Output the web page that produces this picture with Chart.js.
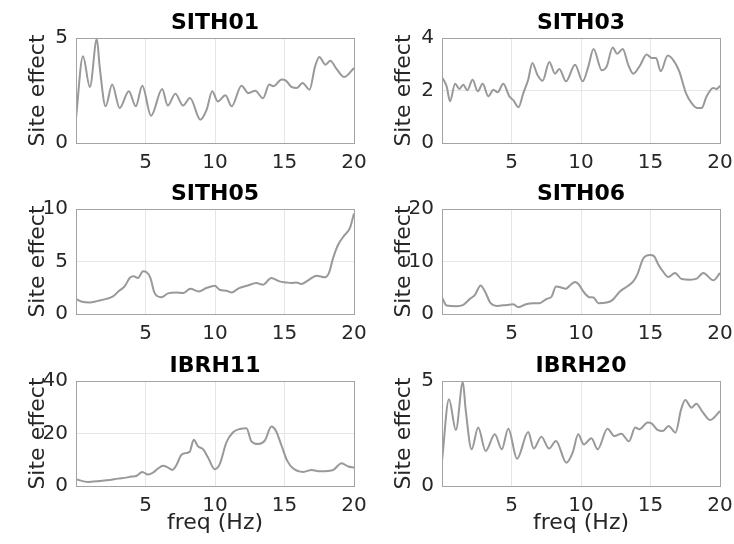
<!DOCTYPE html>
<html>
<head>
<meta charset="utf-8">
<script src="https://cdn.jsdelivr.net/npm/chart.js@4"></script>
<style>
  body { margin: 0; background: #fff; }
  #wrap { position: relative; width: 734px; height: 544px; overflow: hidden; }
  .panel { position: absolute; }
</style>
</head>
<body>
<div id="wrap"></div>
<script>
// 各測站的場址效應曲線（數值從圖上估讀）

const sith01Freq = [0, 0.5, 1.0, 1.5, 1.7, 2.13, 2.6, 3.14, 3.8, 4.3, 4.77, 5.4, 6.2, 6.6, 7.15, 7.7, 8.2, 8.95, 9.4, 9.8, 10.2, 10.75, 11.2, 11.9, 12.4, 12.9, 13.45, 13.9, 14.2, 14.8, 15.1, 15.5, 15.9, 16.3, 16.8, 17.2, 17.5, 17.95, 18.3, 18.7, 19.3, 20];
const sith01Val = [1.19, 4.13, 2.67, 4.95, 3.65, 1.75, 2.78, 1.67, 2.46, 1.75, 2.73, 1.30, 2.57, 1.78, 2.35, 1.78, 2.14, 1.11, 1.59, 2.46, 1.98, 2.27, 1.75, 2.73, 2.38, 2.49, 2.13, 2.78, 2.70, 3.02, 2.97, 2.67, 2.62, 2.86, 2.54, 3.65, 4.10, 3.73, 3.92, 3.57, 3.14, 3.57];

const sith03Freq = [0, 0.33, 0.58, 0.94, 1.25, 1.53, 1.82, 2.2, 2.57, 2.93, 3.33, 3.7, 4.0, 4.41, 4.84, 5.13, 5.5, 5.85, 6.2, 6.5, 6.86, 7.24, 7.72, 8.13, 8.44, 8.92, 9.57, 10.12, 10.53, 10.9, 11.5, 11.85, 12.28, 12.6, 13.0, 13.4, 13.76, 14.24, 14.72, 15.08, 15.4, 15.73, 16.24, 16.7, 17.07, 17.55, 17.96, 18.37, 18.68, 19.04, 19.5, 19.76, 20];
const sith03Val = [2.51, 2.16, 1.59, 2.26, 2.06, 2.22, 2.01, 2.41, 1.97, 2.26, 1.78, 2.03, 1.93, 2.26, 1.78, 1.63, 1.36, 1.90, 2.41, 3.05, 2.60, 2.37, 3.09, 2.64, 2.82, 2.35, 2.98, 2.35, 2.92, 3.58, 2.77, 2.92, 3.64, 3.40, 3.58, 2.98, 2.64, 2.95, 3.37, 3.24, 3.24, 2.73, 3.33, 3.11, 2.73, 1.90, 1.52, 1.33, 1.33, 1.78, 2.10, 2.06, 2.18];

const sith05Freq = [0, 0.38, 0.98, 1.58, 2.18, 2.66, 3.1, 3.5, 3.86, 4.15, 4.46, 4.82, 5.06, 5.35, 5.66, 6.14, 6.62, 7.22, 7.7, 8.23, 8.83, 9.38, 9.98, 10.34, 10.82, 11.22, 11.73, 12.37, 12.97, 13.45, 14.05, 14.65, 15.13, 15.5, 15.85, 16.2, 16.7, 17.3, 17.9, 18.2, 18.5, 18.85, 19.33, 19.7, 20];
const sith05Val = [1.44, 1.19, 1.09, 1.25, 1.44, 1.67, 2.21, 2.63, 3.43, 3.59, 3.43, 4.07, 4.00, 3.43, 1.99, 1.60, 1.96, 2.05, 1.99, 2.40, 2.15, 2.47, 2.69, 2.31, 2.21, 2.05, 2.47, 2.72, 2.95, 2.79, 3.43, 3.11, 3.01, 2.95, 3.01, 2.85, 3.21, 3.65, 3.49, 3.91, 5.35, 6.57, 7.53, 8.17, 9.58];

const sith06Freq = [0, 0.34, 1.06, 1.53, 2.01, 2.37, 2.78, 3.09, 3.5, 3.93, 4.65, 5.13, 5.49, 6.04, 6.57, 7.0, 7.53, 7.89, 8.2, 8.56, 8.9, 9.26, 9.57, 9.81, 10.22, 10.6, 10.9, 11.25, 11.85, 12.28, 12.8, 13.4, 13.76, 14.05, 14.48, 14.96, 15.25, 15.56, 15.92, 16.28, 16.76, 17.24, 17.84, 18.32, 18.8, 19.52, 20];
const sith06Val = [3.14, 1.60, 1.47, 1.73, 2.88, 3.65, 5.45, 4.29, 2.05, 1.54, 1.73, 1.86, 1.28, 1.86, 2.05, 2.05, 2.88, 3.33, 5.26, 5.06, 4.81, 5.58, 6.09, 5.71, 4.10, 3.20, 3.14, 2.05, 2.18, 2.69, 4.29, 5.38, 6.22, 7.50, 10.58, 11.22, 11.03, 9.42, 8.01, 7.05, 7.82, 6.67, 6.54, 6.73, 7.82, 6.41, 7.82];

const ibrh11Freq = [0, 0.86, 1.7, 2.42, 3.02, 3.62, 3.98, 4.34, 4.77, 5.18, 5.54, 5.9, 6.26, 6.62, 6.93, 7.22, 7.58, 7.89, 8.18, 8.47, 8.78, 9.14, 9.5, 9.98, 10.34, 10.82, 11.3, 11.78, 12.26, 12.62, 13.1, 13.58, 14.06, 14.38, 14.79, 15.2, 15.63, 16.35, 16.95, 17.43, 18.15, 18.51, 19.11, 19.59, 20];
const ibrh11Val = [2.56, 1.53, 1.92, 2.30, 2.81, 3.19, 3.58, 3.83, 5.37, 4.35, 5.11, 6.65, 7.67, 7.03, 6.13, 7.92, 11.88, 12.52, 13.04, 17.64, 15.08, 14.06, 10.86, 6.39, 8.31, 16.61, 20.45, 21.73, 21.98, 17.00, 15.97, 17.25, 22.62, 21.09, 15.33, 9.58, 6.65, 5.37, 6.13, 5.62, 5.75, 6.13, 8.69, 7.41, 7.03];

const ibrh20Freq = [0, 0.5, 1.0, 1.5, 1.7, 2.13, 2.6, 3.14, 3.8, 4.3, 4.77, 5.4, 6.2, 6.6, 7.15, 7.7, 8.2, 8.95, 9.4, 9.8, 10.2, 10.75, 11.2, 11.9, 12.4, 12.9, 13.45, 13.9, 14.2, 14.8, 15.1, 15.5, 15.9, 16.3, 16.8, 17.2, 17.5, 17.95, 18.3, 18.7, 19.3, 20];
const ibrh20Val = [1.19, 4.13, 2.67, 4.95, 3.65, 1.75, 2.78, 1.67, 2.46, 1.75, 2.73, 1.30, 2.57, 1.78, 2.35, 1.78, 2.14, 1.11, 1.59, 2.46, 1.98, 2.27, 1.75, 2.73, 2.38, 2.49, 2.13, 2.78, 2.70, 3.02, 2.97, 2.67, 2.62, 2.86, 2.54, 3.65, 4.10, 3.73, 3.92, 3.57, 3.14, 3.57];

const xTicks = [5, 10, 15, 20];
const sith01Ticks = [0, 5];
const sith03Ticks = [0, 2, 4];
const sith05Ticks = [0, 5, 10];
const sith06Ticks = [0, 10, 20];
const ibrh11Ticks = [0, 20, 40];
const ibrh20Ticks = [0, 5];

const stations = ['SITH01', 'SITH03', 'SITH05', 'SITH06', 'IBRH11', 'IBRH20'];

const FONT = 'DejaVu Sans';

/**
 * 畫出完整的座標框（上下左右四邊）
 */
const boxPlugin = {
    id: 'box',
    afterDatasetsDraw(chart) {
        const a = chart.chartArea;
        const ctx = chart.ctx;
        ctx.save();
        ctx.strokeStyle = '#a3a3a3';
        ctx.lineWidth = 1;
        ctx.strokeRect(Math.round(a.left) + 0.5, Math.round(a.top) + 0.5,
            Math.round(a.right - a.left), Math.round(a.bottom - a.top));
        ctx.restore();
    },
};

/**
 * 建立一個子圖
 */
function makePanel(name, freq, vals, yTicks, col, row) {
    const bottomRow = row === 2;
    const plotLeft = col === 0 ? 76 : 442;
    const plotTop = [38, 209, 381][row];
    const canvasLeft = plotLeft - 76;
    const canvasTop = plotTop - 38;
    const width = 367;
    const height = bottomRow ? 203 : 173;

    const div = document.createElement('div');
    div.className = 'panel';
    div.style.left = canvasLeft + 'px';
    div.style.top = canvasTop + 'px';
    const canvas = document.createElement('canvas');
    canvas.width = width;
    canvas.height = height;
    canvas.style.width = width + 'px';
    canvas.style.height = height + 'px';
    div.appendChild(canvas);
    document.getElementById('wrap').appendChild(div);

    const points = freq.map((f, i) => ({ x: f, y: vals[i] }));

    return new Chart(canvas, {
        type: 'line',
        data: {
            datasets: [
                {
                    label: name,
                    data: points,
                    borderColor: '#999999',
                    borderWidth: 2,
                    pointRadius: 0,
                    cubicInterpolationMode: 'monotone',
                    fill: false,
                },
            ],
        },
        options: {
            responsive: false,
            animation: false,
            devicePixelRatio: 1,
            layout: { padding: { left: 0, right: 13, top: 0, bottom: 0 } },
            plugins: {
                legend: { display: false },
                tooltip: { enabled: false },
                title: {
                    display: true,
                    text: name,
                    fullSize: false,
                    color: '#000',
                    font: { family: FONT, size: 22, weight: 'bold', lineHeight: 1 },
                    padding: { top: 12, bottom: 4 },
                },
            },
            scales: {
                x: {
                    type: 'linear',
                    min: 0,
                    max: 20,
                    afterBuildTicks: (s) => { s.ticks = xTicks.map((v) => ({ value: v })); },
                    afterFit: (s) => {
                        s.height = bottomRow ? 60 : 30;
                        s.paddingLeft = 0;
                        s.paddingRight = 0;
                    },
                    grid: { color: '#e6e6e6', drawTicks: false },
                    border: { display: false },
                    ticks: {
                        color: '#262626',
                        font: { family: FONT, size: 20 },
                        padding: 8,
                        maxRotation: 0,
                    },
                    title: {
                        display: bottomRow,
                        text: 'freq (Hz)',
                        color: '#262626',
                        font: { family: FONT, size: 22, lineHeight: 1 },
                        padding: { top: 0, bottom: 12 },
                    },
                },
                y: {
                    min: yTicks[0],
                    max: yTicks[yTicks.length - 1],
                    afterBuildTicks: (s) => { s.ticks = yTicks.map((v) => ({ value: v })); },
                    afterFit: (s) => {
                        s.width = 76;
                        s.paddingTop = 0;
                        s.paddingBottom = 0;
                    },
                    grid: { color: '#e6e6e6', drawTicks: false },
                    border: { display: false },
                    ticks: {
                        color: '#262626',
                        font: { family: FONT, size: 20 },
                        padding: 8,
                    },
                    title: {
                        display: true,
                        text: 'Site effect',
                        color: '#262626',
                        font: { family: FONT, size: 22, lineHeight: 1 },
                        padding: { top: 27, bottom: 0 },
                    },
                },
            },
        },
        plugins: [boxPlugin],
    });
}

makePanel(stations[0], sith01Freq, sith01Val, sith01Ticks, 0, 0);
makePanel(stations[1], sith03Freq, sith03Val, sith03Ticks, 1, 0);
makePanel(stations[2], sith05Freq, sith05Val, sith05Ticks, 0, 1);
makePanel(stations[3], sith06Freq, sith06Val, sith06Ticks, 1, 1);
makePanel(stations[4], ibrh11Freq, ibrh11Val, ibrh11Ticks, 0, 2);
makePanel(stations[5], ibrh20Freq, ibrh20Val, ibrh20Ticks, 1, 2);
</script>
</body>
</html>
